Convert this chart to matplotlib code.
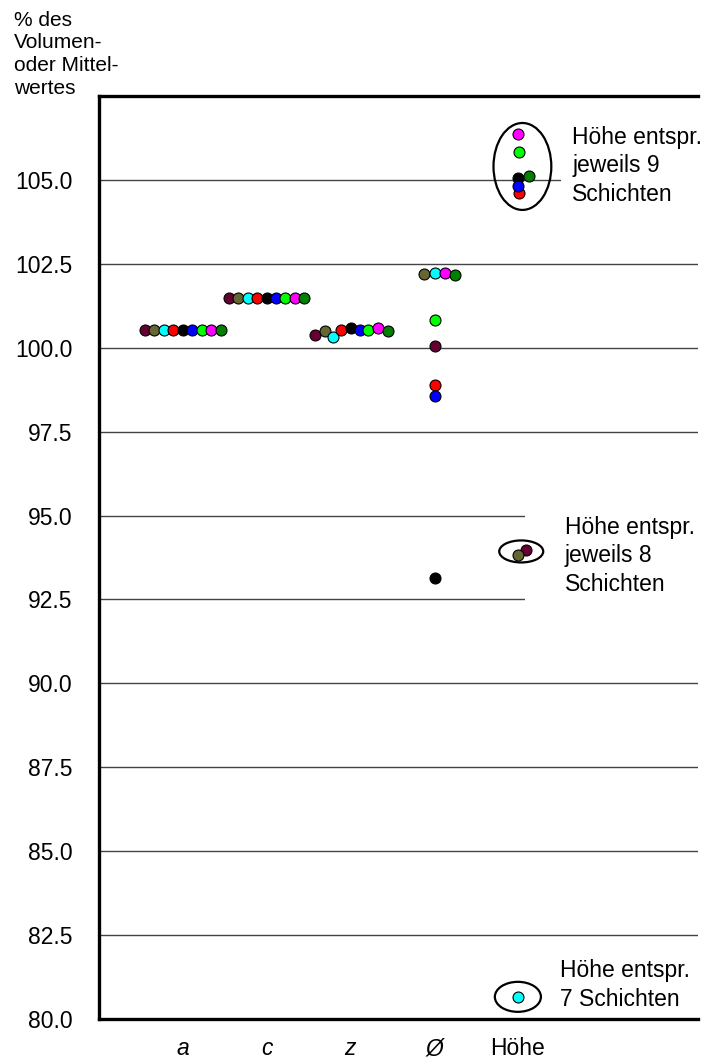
import matplotlib
matplotlib.use("Agg")
import matplotlib.pyplot as plt
from matplotlib.patches import Ellipse
import numpy as np

plt.rcParams['font.family'] = ['Liberation Sans', 'DejaVu Sans']

# categories on the x axis
categories = ['a', 'c', 'z', 'Ø', 'Höhe']

# nine series, one value per category (% of volume or mean value)
s_maroon = [100.54, 101.48, 100.37, 100.06, 93.96]
s_olive = [100.54, 101.48, 100.49, 102.20, 93.82]
s_cyan = [100.54, 101.48, 100.32, 102.22, 80.66]
s_red = [100.54, 101.47, 100.52, 98.88, 104.61]
s_black = [100.54, 101.48, 100.60, 93.15, 105.07]
s_blue = [100.54, 101.48, 100.54, 98.57, 104.81]
s_lime = [100.54, 101.48, 100.54, 100.83, 105.82]
s_magenta = [100.54, 101.48, 100.58, 102.22, 106.38]
s_green = [100.54, 101.48, 100.50, 102.17, 105.13]

series = [s_maroon, s_olive, s_cyan, s_red, s_black, s_blue, s_lime, s_magenta, s_green]
colors = ['#660033', '#666633', '#00ffff', '#ff0000', '#000000',
          '#0000ff', '#00ff00', '#ff00ff', '#008000']

# sideways shift of each dot (in dot widths) so the points do not hide each other
shift = np.array([
    [-4, -4, -3.7, 0.1, 0.9],
    [-3, -3, -2.7, -1.05, 0.0],
    [-2, -2, -1.8, 0.1, 0.0],
    [-1, -1, -0.95, 0.1, 0.1],
    [0, 0, 0.1, 0.1, 0.0],
    [1, 1, 1.05, 0.1, 0.0],
    [2, 2, 1.9, 0.1, 0.1],
    [3, 3, 2.95, 1.15, 0.0],
    [4, 4, 4.0, 2.2, 1.15],
])
step = 0.113

yticks = np.arange(80.0, 105.01, 2.5)

fig = plt.figure(figsize=(7.09, 10.64), dpi=100)
ax = fig.add_axes([0.1396, 0.0423, 0.9845 - 0.1396, 0.9098 - 0.0423])

x = np.arange(1, len(categories) + 1)
for vals, col, sh in zip(series, colors, shift):
    ax.plot(x + sh * step, vals, 'o', ms=7.9, mfc=col, mec='black', mew=0.8,
            zorder=5, clip_on=False)

# groups of the "Höhe" column
for (cx, cy, w, h) in [(5.054, 105.40, 0.69, 2.59), (5.04, 93.93, 0.525, 0.656),
                       (5.0, 80.66, 0.55, 0.894)]:
    ax.add_patch(Ellipse((cx, cy), w, h, fill=False, ec='black', lw=1.6, zorder=4))

ax.text(5.65, 105.42, 'Höhe entspr.\njeweils 9\nSchichten', fontsize=16.5, va='center',
        ha='left', zorder=3, linespacing=1.31,
        bbox=dict(boxstyle='square,pad=0.5', fc='white', ec='none'))
ax.text(5.56, 93.80, 'Höhe entspr.\njeweils 8\nSchichten', fontsize=16.5, va='center',
        ha='left', zorder=3, linespacing=1.31,
        bbox=dict(boxstyle='square,pad=1.75', fc='white', ec='none'))
ax.text(5.50, 81.01, 'Höhe entspr.\n7 Schichten', fontsize=16.5, va='center',
        ha='left', zorder=3, linespacing=1.31)

ax.set_xlim(0, 7.15)
ax.set_ylim(80, 107.5)
ax.set_yticks(yticks)
ax.set_yticklabels([f'{v:.1f}' for v in yticks], fontsize=16.5)
ax.set_xticks(x)
ax.set_xticklabels(categories, fontsize=16.5)
for lbl in ax.get_xticklabels()[:4]:
    lbl.set_fontstyle('italic')
ax.tick_params(axis='both', length=0)
ax.tick_params(axis='y', pad=19)
ax.tick_params(axis='x', pad=13)

ax.set_axisbelow(True)
ax.yaxis.grid(True, color='#444444', lw=1.0)
ax.xaxis.grid(False)

for side in ['left', 'bottom', 'top']:
    ax.spines[side].set_linewidth(2.4)
    ax.spines[side].set_color('black')
ax.spines['right'].set_visible(False)

fig.text(0.02, 0.99, '% des\nVolumen-\noder Mittel-\nwertes', fontsize=15,
         va='top', ha='left', linespacing=1.25)

fig.savefig('out.png', dpi=100)
